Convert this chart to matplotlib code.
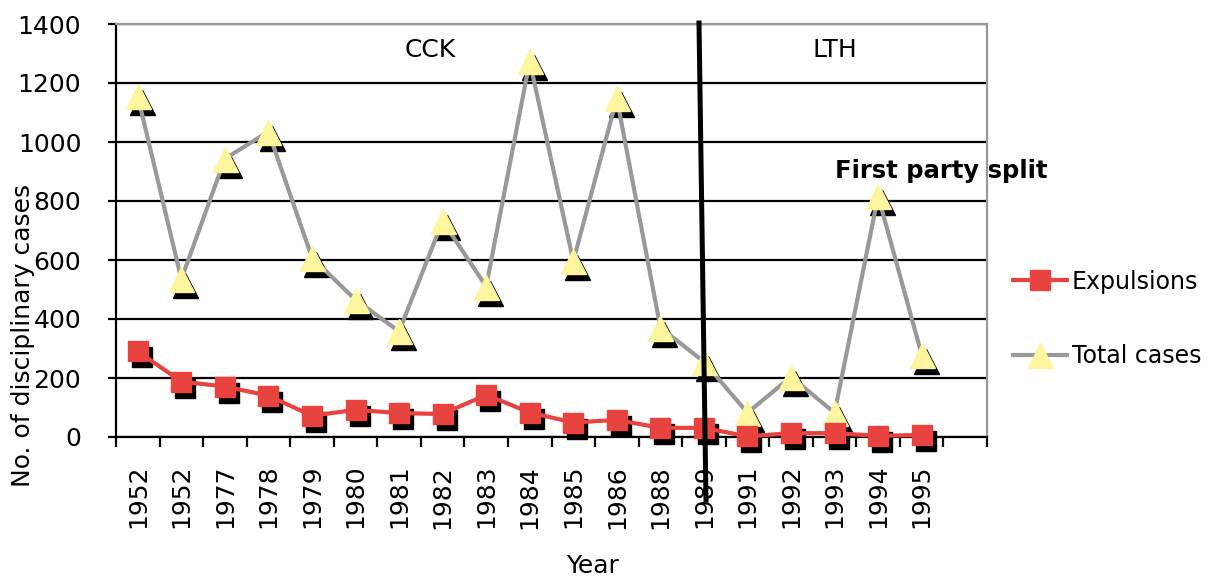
import matplotlib
matplotlib.use("Agg")
import matplotlib.pyplot as plt
import matplotlib.transforms as mtransforms
from matplotlib.lines import Line2D
import numpy as np

# data
years = ["1952", "1952", "1977", "1978", "1979", "1980", "1981", "1982", "1983",
         "1984", "1985", "1986", "1988", "1989", "1991", "1992", "1993", "1994",
         "1995", ""]
expulsions = [290, 188, 171, 140, 72, 92, 81, 78, 143, 83, 49, 58, 31, 31,
              2, 13, 13, 4, 7]
total_cases = [1155, 535, 943, 1035, 608, 465, 358, 732, 510, 1274, 596, 1148,
               371, 255, 82, 204, 82, 817, 279]

red = "#E8433E"
yellow = "#FFF59E"
grey = "#999999"
fs = 18

fig = plt.figure(figsize=(12.07, 5.79), dpi=100)
ax = fig.add_axes([116 / 1207, 1 - 437 / 579, 871 / 1207, 413 / 579])

x = np.arange(len(years))
xe = x[:len(expulsions)]
xt = x[:len(total_cases)]

shadow = mtransforms.offset_copy(ax.transData, fig=fig, x=4, y=-6, units="dots")

# total cases
ax.plot(xt, total_cases, "^", ms=18, color="black", mec="black",
        transform=shadow, zorder=3, clip_on=False)
ax.plot(xt, total_cases, "-", color=grey, lw=3, zorder=4, clip_on=False)
ax.plot(xt, total_cases, "^", ms=18, color=yellow, mec=yellow, zorder=5, clip_on=False)

# expulsions
ax.plot(xe, expulsions, "s", ms=15, color="black", mec="black",
        transform=shadow, zorder=6, clip_on=False)
ax.plot(xe, expulsions, "-", color=red, lw=3, zorder=7, clip_on=False)
ax.plot(xe, expulsions, "s", ms=15, color=red, mec=red, zorder=8, clip_on=False)

ax.set_xlim(-0.5, len(years) - 0.5)
ax.set_ylim(0, 1400)
ax.set_yticks(np.arange(0, 1401, 200))
ax.yaxis.grid(True, color="black", lw=1.6)
ax.set_axisbelow(True)

ax.set_xticks(x)
ax.set_xticklabels(years, rotation=90, fontsize=fs)
ax.set_xticks(np.arange(-0.5, len(years), 1), minor=True)
ax.tick_params(axis="x", which="major", length=0, pad=20)
ax.tick_params(axis="x", which="minor", length=7, width=1.6, direction="out")
ax.tick_params(axis="y", length=6, width=1.6, labelsize=fs, pad=19)

for s in ("left", "bottom"):
    ax.spines[s].set_color("black")
    ax.spines[s].set_linewidth(1.6)
for s in ("top", "right"):
    ax.spines[s].set_color(grey)
    ax.spines[s].set_linewidth(1.6)

ax.text(0.3605, 0.937, "CCK", transform=ax.transAxes, fontsize=fs,
        ha="center", va="center")
ax.text(0.8255, 0.937, "LTH", transform=ax.transAxes, fontsize=fs,
        ha="center", va="center")
ax.text(0.8255, 0.643, "First party split", transform=ax.transAxes,
        fontsize=17.5, fontweight="bold", ha="left", va="center", clip_on=False,
        zorder=10)

# divider line between periods
fig.add_artist(Line2D([699 / 1207, 706 / 1207], [1 - 23 / 579, 1 - 500 / 579],
                      transform=fig.transFigure, color="black", lw=3.6, zorder=20))

fig.text(23 / 1207, 1 - 335 / 579, "No. of disciplinary cases", rotation=90,
         fontsize=fs, ha="center", va="center")
fig.text(593 / 1207, 1 - 566 / 579, "Year", fontsize=fs, ha="center", va="center")

handles = [
    Line2D([], [], color=red, lw=3, marker="s", ms=15, mfc=red, mec=red),
    Line2D([], [], color=grey, lw=3, marker="^", ms=18, mfc=yellow, mec=yellow),
]
fig.legend(handles, ["Expulsions", "Total cases"], loc="center left",
           bbox_to_anchor=(1013 / 1207, 1 - 319 / 579), frameon=False,
           fontsize=17, handlelength=2.3, handletextpad=0.2, labelspacing=2.15,
           borderpad=0, borderaxespad=0)

fig.savefig("out.png", dpi=100)
